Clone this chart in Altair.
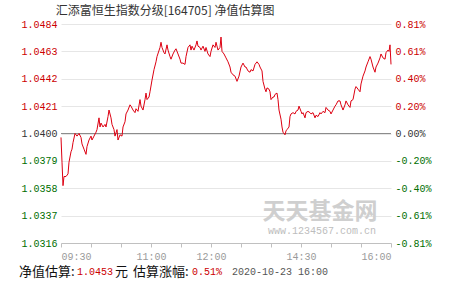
import altair as alt
import pandas as pd

# ---------------- data ----------------
title_text = "汇添富恒生指数分级[164705] 净值估算图"
base_nav = 1.0400
y_ticks = [1.0316, 1.0337, 1.0358, 1.0379, 1.0400, 1.0421, 1.0442, 1.0463, 1.0484]
x_ticks = [0, 30, 60, 90, 120, 150, 180, 210, 240, 270, 300, 330]
x_label_pos = [0, 90, 150, 240, 330]
x_label_txt = ["09:30", "11:00", "12:00", "14:30", "16:00"]

seg1_min = [0, 1, 2, 3, 5, 7, 8, 10, 11, 12, 14, 16, 18, 20, 21, 23, 25, 26, 28, 30,
            31, 33, 35, 36, 38, 39, 40, 42, 44, 45, 47, 48, 50, 51, 53, 54, 56, 57, 59, 61,
            62, 64, 65, 67, 69, 70, 72, 74, 75, 77, 79, 80, 82]
seg1_nav = [1.0397, 1.0378, 1.0360, 1.0367, 1.0367, 1.0369, 1.0378, 1.0386, 1.0388, 1.0393,
            1.0400, 1.0398, 1.0400, 1.0397, 1.0392, 1.0388, 1.0384, 1.0390, 1.0395, 1.0398,
            1.0395, 1.0398, 1.0401, 1.0403, 1.0412, 1.0405, 1.0408, 1.0405, 1.0407, 1.0405,
            1.0413, 1.0418, 1.0412, 1.0407, 1.0403, 1.0398, 1.0403, 1.0395, 1.0399, 1.0398,
            1.0405, 1.0409, 1.0415, 1.0418, 1.0422, 1.0421, 1.0418, 1.0416, 1.0419, 1.0417,
            1.0426, 1.0421, 1.0418]
seg2_min = [84, 85, 86, 88, 89, 91, 93, 95, 96, 99, 100, 101, 103, 104, 106, 107, 109, 110, 112, 114,
            115, 117, 119, 120, 122, 124, 125, 127, 129, 130, 131, 133, 135, 136, 137, 139, 140, 142, 144, 145,
            147, 149, 150, 152, 154, 155, 157, 159, 160, 161, 163, 165, 167]
seg2_nav = [1.0426, 1.0431, 1.0426, 1.0428, 1.0432, 1.0441, 1.0449, 1.0455, 1.0459, 1.0466,
            1.0470, 1.0466, 1.0462, 1.0461, 1.0468, 1.0464, 1.0459, 1.0457, 1.0461, 1.0464,
            1.0465, 1.0461, 1.0457, 1.0454, 1.0454, 1.0453, 1.0459, 1.0466, 1.0468, 1.0464,
            1.0467, 1.0464, 1.0468, 1.0471, 1.0467, 1.0466, 1.0464, 1.0467, 1.0463, 1.0466,
            1.0461, 1.0459, 1.0463, 1.0468, 1.0466, 1.0470, 1.0464, 1.0466, 1.0474, 1.0463,
            1.0461, 1.0458, 1.0455]
seg3_min = [169, 170, 172, 174, 176, 178, 180, 182, 184, 185, 187, 189, 190, 192, 194, 196, 198, 199, 201, 202,
            204, 205, 206, 208, 209, 210, 212, 213, 214, 216, 217, 218, 220, 221, 222, 224, 225, 226, 228, 229,
            230, 232, 234, 235, 237, 238, 240, 241, 242, 244, 245, 247, 249, 250, 252]
seg3_nav = [1.0451, 1.0447, 1.0445, 1.0444, 1.0440, 1.0444, 1.0451, 1.0454, 1.0451, 1.0451,
            1.0448, 1.0447, 1.0449, 1.0448, 1.0453, 1.0455, 1.0453, 1.0451, 1.0448, 1.0440,
            1.0434, 1.0432, 1.0435, 1.0434, 1.0432, 1.0426, 1.0428, 1.0428, 1.0430, 1.0431,
            1.0426, 1.0418, 1.0411, 1.0405, 1.0401, 1.0399, 1.0402, 1.0403, 1.0405, 1.0413,
            1.0415, 1.0416, 1.0415, 1.0417, 1.0418, 1.0421, 1.0417, 1.0415, 1.0416, 1.0412,
            1.0416, 1.0417, 1.0416, 1.0415, 1.0416]
seg4_min = [254, 255, 257, 259, 260, 262, 264, 265, 267, 269, 270, 272, 274, 275, 277, 279, 280, 282, 284, 285,
            287, 289, 290, 292, 294, 295, 297, 299, 300, 302, 304, 305, 307, 309, 310, 312, 314, 315, 317, 319,
            320, 322, 324, 325, 327, 328, 329, 330]
seg4_nav = [1.0412, 1.0414, 1.0413, 1.0416, 1.0415, 1.0417, 1.0416, 1.0420, 1.0418, 1.0417,
            1.0415, 1.0418, 1.0421, 1.0422, 1.0425, 1.0425, 1.0422, 1.0418, 1.0422, 1.0425,
            1.0422, 1.0420, 1.0425, 1.0426, 1.0434, 1.0436, 1.0434, 1.0432, 1.0438, 1.0444,
            1.0448, 1.0451, 1.0455, 1.0459, 1.0457, 1.0451, 1.0447, 1.0451, 1.0454, 1.0458,
            1.0461, 1.0458, 1.0457, 1.0462, 1.0464, 1.0463, 1.0468, 1.0453]

info_nav = "1.0453"
info_pct = "0.51%"
info_time = "2020-10-23 16:00"

minutes = seg1_min + seg2_min + seg3_min + seg4_min
navs = seg1_nav + seg2_nav + seg3_nav + seg4_nav
assert len(minutes) == len(navs)
df = pd.DataFrame({"m": minutes, "nav": navs})

# ---------------- style ----------------
RED = "#cc0000"
LINE_RED = "#dd0011"
GREEN = "#006e00"
MONO = "Liberation Mono"
CJK = "Noto Sans CJK SC"
W, H = 330, 219

xscale = alt.Scale(domain=[0, 330], nice=False, zero=False)
yscale = alt.Scale(domain=[y_ticks[0], y_ticks[-1]], nice=False, zero=False)

color_cond = {
    "condition": [
        {"test": "datum.value > 1.04005", "value": RED},
        {"test": "datum.value < 1.03995", "value": GREEN},
    ],
    "value": "#333333",
}

xlabel_expr = " : ".join(
    f"datum.value == {p} ? '{t}'" for p, t in zip(x_label_pos, x_label_txt)
) + " : ''"

one = pd.DataFrame({"a": [0]})

zero_rule = alt.Chart(pd.DataFrame({"nav": [base_nav]})).mark_rule(
    color="#8c8c8c", strokeWidth=1
).encode(
    y=alt.Y("nav:Q", scale=yscale, axis=alt.Axis(
        orient="right", values=y_ticks, title=None, grid=False, domain=False, ticks=False,
        labelExpr="replace(format((datum.value/1.04-1)*100, '.2f'), '\u2212', '-') + '%'",
        labelColor=color_cond, labelFont=MONO, labelFontSize=10, labelPadding=4,
        labelOverlap=False,
    ))
)

line = alt.Chart(df).mark_line(color=LINE_RED, strokeWidth=1).encode(
    x=alt.X("m:Q", scale=xscale, axis=alt.Axis(
        values=x_ticks, labelExpr=xlabel_expr, title=None, grid=False,
        domainColor="#c0c0c0", tickColor="#c0c0c0", tickSize=4,
        labelColor="#9a9a9a", labelFont=MONO, labelFontSize=10, labelPadding=4,
        labelOverlap=False, labelFlush=True,
    )),
    y=alt.Y("nav:Q", scale=yscale, axis=alt.Axis(
        orient="left", values=y_ticks, format=".4f", title=None,
        grid=True, gridColor="#e6e6e6", domain=False, ticks=False,
        labelColor=color_cond, labelFont=MONO, labelFontSize=10, labelPadding=4,
        labelOverlap=False,
    )),
)


def txt(text, x, y, color, size, font, align="left", weight="normal"):
    return alt.Chart(one).mark_text(
        text=text, color=color, fontSize=size, font=font, align=align,
        baseline="middle", fontWeight=weight,
    ).encode(x=alt.value(x), y=alt.value(y))


decor = [
    txt(title_text, 104, -13, "#333333", 12, CJK, align="center"),
    txt("天天基金网", 259, 188, "#cfcfcf", 23, CJK, align="center", weight="bold"),
    txt("www.1234567.com.cn", 261, 207, "#bdbdbd", 10, MONO, align="center"),
    txt("净值估算:", -42, 248, "#111111", 13, CJK),
    txt(info_nav, 16, 248, RED, 10, MONO),
    txt("元", 54, 248, "#111111", 13, CJK),
    txt("估算涨幅:", 72, 248, "#111111", 13, CJK),
    txt(info_pct, 131, 248, RED, 10, MONO),
    txt(info_time, 171, 248, "#555555", 10, MONO),
]

chart = alt.layer(zero_rule, line, *decor).resolve_scale(y="independent").properties(
    width=W, height=H,
    padding={"left": 61, "top": 24, "right": 60, "bottom": 38},
    autosize=alt.AutoSizeParams(type="none"),
    background="white",
).configure_view(strokeWidth=0)

chart.save("out.html", embed_options={"renderer": "svg", "actions": False})
